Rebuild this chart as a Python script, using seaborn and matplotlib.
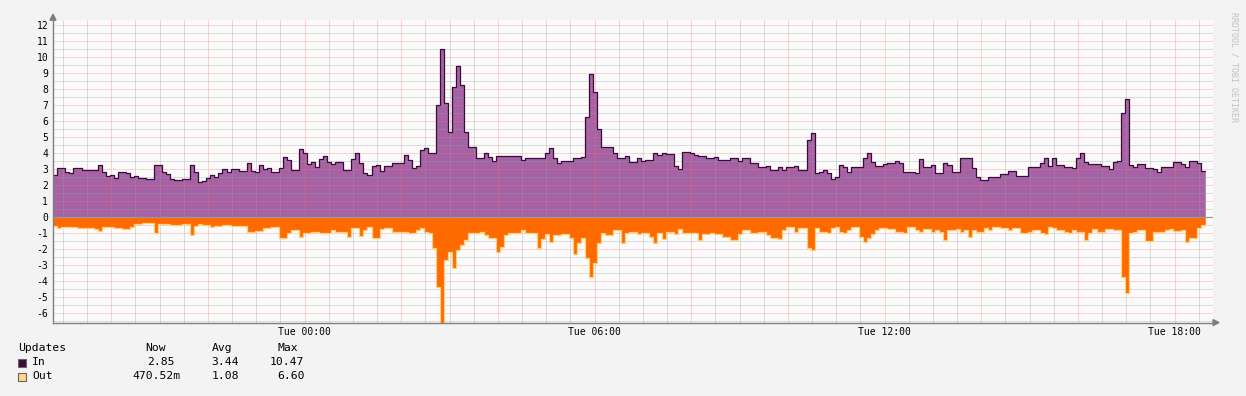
import numpy as np
import pandas as pd
import matplotlib
matplotlib.use("Agg")
import matplotlib.pyplot as plt
import matplotlib.dates as mdates
from matplotlib.patches import Polygon, Rectangle
from matplotlib.transforms import IdentityTransform
import seaborn as sns

# ---------------- data (5-minute steps, Mon 18:48 -> Tue 18:38) ----------------
series_start = "2024-01-01 18:48"   # a Monday
step_minutes = 5

in_values = [
    2.60, 3.08, 3.04, 2.80, 2.73, 3.04, 3.08, 2.94, 2.94, 2.94,
    2.94, 3.23, 2.80, 2.58, 2.62, 2.42, 2.83, 2.83, 2.77, 2.52,
    2.56, 2.44, 2.42, 2.40, 2.35, 3.23, 3.23, 2.83, 2.69, 2.38,
    2.31, 2.31, 2.38, 2.38, 3.23, 2.80, 2.19, 2.25, 2.42, 2.62,
    2.48, 2.73, 2.98, 2.81, 2.98, 2.98, 2.88, 2.88, 3.35, 2.90,
    2.80, 3.27, 2.98, 3.04, 2.80, 2.80, 3.04, 3.73, 3.56, 2.94,
    2.94, 4.23, 4.02, 3.31, 3.46, 3.10, 3.60, 3.81, 3.42, 3.29,
    3.42, 3.42, 2.94, 2.94, 3.60, 3.98, 3.35, 2.73, 2.62, 3.21,
    3.25, 2.88, 3.19, 3.19, 3.35, 3.35, 3.35, 3.88, 3.56, 3.08,
    3.19, 4.19, 4.29, 3.98, 3.98, 7.00, 10.47, 7.10, 5.33, 8.15,
    9.44, 8.25, 5.33, 4.35, 4.35, 3.67, 3.67, 3.98, 3.77, 3.50,
    3.81, 3.81, 3.81, 3.81, 3.81, 3.81, 3.56, 3.67, 3.70, 3.70,
    3.70, 3.67, 3.98, 4.29, 3.67, 3.35, 3.52, 3.52, 3.52, 3.71,
    3.71, 3.77, 6.27, 8.92, 7.83, 5.48, 4.40, 4.40, 4.40, 3.98,
    3.67, 3.67, 3.81, 3.46, 3.46, 3.70, 3.52, 3.56, 3.56, 4.02,
    3.88, 3.98, 3.92, 3.92, 3.19, 2.98, 4.08, 4.08, 4.02, 3.88,
    3.81, 3.81, 3.67, 3.67, 3.73, 3.56, 3.56, 3.56, 3.67, 3.67,
    3.50, 3.67, 3.67, 3.35, 3.35, 3.15, 3.15, 3.19, 2.94, 2.94,
    3.10, 2.94, 3.15, 3.15, 3.19, 2.94, 2.94, 4.81, 5.27, 2.77,
    2.83, 2.94, 2.77, 2.38, 2.52, 3.25, 3.10, 2.83, 3.10, 3.10,
    3.10, 3.67, 3.98, 3.46, 3.19, 3.19, 3.31, 3.40, 3.40, 3.52,
    3.35, 2.83, 2.83, 2.83, 2.73, 3.60, 3.10, 3.10, 3.25, 2.77,
    2.77, 3.40, 3.25, 2.83, 2.83, 3.67, 3.67, 3.67, 3.04, 2.52,
    2.31, 2.31, 2.52, 2.52, 2.52, 2.67, 2.67, 2.90, 2.90, 2.58,
    2.58, 2.58, 3.15, 3.15, 3.15, 3.35, 3.71, 3.19, 3.71, 3.25,
    3.25, 3.15, 3.15, 3.04, 3.67, 3.98, 3.46, 3.29, 3.29, 3.29,
    3.19, 3.19, 2.98, 3.46, 3.52, 6.48, 7.35, 3.25, 3.15, 3.29,
    3.29, 3.04, 3.04, 2.98, 2.83, 3.15, 3.15, 3.15, 3.46, 3.46,
    3.31, 3.15, 3.50, 3.50, 3.35, 2.85,
]

out_values = [
    0.56, 0.71, 0.65, 0.65, 0.60, 0.60, 0.71, 0.71, 0.67, 0.67,
    0.77, 0.85, 0.65, 0.60, 0.60, 0.67, 0.67, 0.77, 0.77, 0.65,
    0.44, 0.44, 0.35, 0.35, 0.35, 0.98, 0.44, 0.44, 0.44, 0.48,
    0.48, 0.48, 0.44, 0.44, 1.13, 0.56, 0.44, 0.50, 0.50, 0.60,
    0.56, 0.56, 0.52, 0.52, 0.56, 0.56, 0.56, 0.56, 0.92, 0.92,
    0.88, 0.88, 0.71, 0.71, 0.60, 0.60, 1.33, 1.33, 1.02, 0.81,
    0.81, 1.27, 1.02, 1.02, 0.92, 0.92, 0.98, 0.98, 0.98, 0.81,
    0.92, 0.92, 0.92, 1.27, 0.71, 0.71, 1.19, 0.81, 0.60, 1.33,
    1.33, 0.77, 0.71, 0.71, 0.92, 0.92, 0.92, 0.92, 1.02, 1.02,
    0.81, 0.71, 0.92, 1.02, 1.96, 4.35, 6.60, 2.69, 2.17, 3.20,
    2.06, 1.75, 1.44, 1.02, 1.02, 1.02, 0.92, 1.13, 1.33, 1.33,
    2.17, 1.85, 1.13, 1.02, 1.02, 1.02, 0.81, 1.02, 1.02, 1.02,
    1.96, 1.40, 1.06, 1.54, 1.13, 1.13, 1.06, 1.06, 1.33, 2.31,
    1.65, 1.33, 2.58, 3.73, 2.90, 1.65, 1.02, 1.13, 1.13, 0.81,
    0.81, 1.65, 0.98, 0.92, 0.92, 1.06, 1.02, 1.02, 1.23, 1.65,
    1.02, 1.40, 0.92, 0.92, 1.06, 0.77, 1.02, 1.02, 1.02, 1.02,
    1.44, 1.06, 1.06, 1.02, 1.06, 1.06, 1.23, 1.23, 1.44, 1.44,
    1.06, 0.81, 0.81, 1.02, 1.02, 0.92, 0.92, 1.13, 1.33, 1.33,
    1.40, 0.81, 0.60, 0.60, 0.92, 0.71, 0.71, 1.96, 2.06, 0.71,
    0.92, 0.92, 1.02, 0.71, 0.60, 0.92, 1.02, 0.81, 0.65, 0.65,
    1.23, 1.54, 1.33, 1.06, 0.81, 0.71, 0.71, 0.77, 0.77, 0.92,
    0.92, 1.02, 0.65, 0.65, 0.81, 0.92, 0.77, 0.77, 0.92, 0.81,
    0.92, 1.44, 0.81, 0.81, 0.77, 0.92, 0.81, 1.23, 0.81, 0.92,
    0.92, 0.71, 0.81, 0.60, 0.60, 0.71, 0.71, 0.81, 0.71, 0.71,
    1.02, 1.02, 0.92, 0.81, 0.81, 0.98, 1.06, 0.60, 0.71, 0.81,
    0.81, 0.92, 1.02, 0.81, 0.92, 0.92, 1.44, 0.98, 0.77, 0.92,
    0.92, 0.77, 0.77, 0.81, 0.81, 3.73, 4.77, 1.02, 0.92, 0.81,
    0.81, 1.48, 1.48, 0.92, 0.92, 0.92, 0.81, 0.77, 0.85, 0.85,
    0.81, 1.54, 1.33, 1.33, 0.71, 0.47,
]

series_names = ["In", "Out"]
legend_title = "Updates"
stat_headers = ["Now", "Avg", "Max"]
in_stats = ["2.85", "3.44", "10.47"]
out_stats = ["470.52m", "1.08", "6.60"]
y_ticks = list(range(-6, 13))
x_tick_labels = ["Tue 00:00", "Tue 06:00", "Tue 12:00", "Tue 18:00"]
credit = "RRDTOOL / TOBI OETIKER"

# ---------------- style ----------------
BG = "#f3f3f3"
CANVAS = "#fbfbfb"
IN_FILL = "#a562a5"
IN_LINE = "#3b0b3b"
OUT_FILL = "#ff6a00"
OUT_LINE = "#ffcf7a"
IN_SWATCH = "#3b0b3b"
OUT_SWATCH = "#ffd68a"
AXIS = "#7f7f7f"
MINOR = (0.62, 0.62, 0.62, 0.65)
MAJOR = (1.0, 0.45, 0.45, 0.6)

sns.set_theme(style="white")
plt.rcParams["font.family"] = ["DejaVu Sans Mono", "DejaVu Sans"]

W, H = 1246, 396
fig = plt.figure(figsize=(W / 100, H / 100), dpi=100)
fig.patch.set_facecolor(BG)
ax = fig.add_axes([53 / W, (H - 322.6) / H, 1160 / W, 302.4 / H])
ax.set_facecolor(CANVAS)

starts = pd.date_range(series_start, periods=len(in_values), freq=f"{step_minutes}min")
edges = starts.append(pd.DatetimeIndex([starts[-1] + pd.Timedelta(minutes=step_minutes)]))
xe = mdates.date2num(edges.to_pydatetime())
vin = np.append(np.array(in_values), in_values[-1])
vout = -np.append(np.array(out_values), out_values[-1])

ax.fill_between(xe, 0, vin, step="post", color=IN_FILL, lw=0, zorder=2)
ax.fill_between(xe, 0, vout, step="post", color=OUT_FILL, lw=0, zorder=3.5)

df = pd.DataFrame({"time": xe, series_names[0]: vin, series_names[1]: vout})
sns.lineplot(data=df, x="time", y=series_names[1], ax=ax, color=OUT_LINE, linewidth=0.9,
             drawstyle="steps-post", zorder=4, legend=False)
sns.lineplot(data=df, x="time", y=series_names[0], ax=ax, color=IN_LINE, linewidth=0.9,
             drawstyle="steps-post", zorder=5, legend=False)

# axes range
x0 = pd.Timestamp("2024-01-01 18:47:36")
x1 = x0 + pd.Timedelta(days=1)
ax.set_xlim(mdates.date2num(x0.to_pydatetime()), mdates.date2num(x1.to_pydatetime()))
ax.set_ylim(-6.6, 12.3)

# grid (dotted)
dot = (0, (1, 1))
grid_t = pd.date_range("2024-01-01 19:00", "2024-01-02 18:30", freq="30min")
for tt in grid_t:
    col = MAJOR if (tt.minute == 0 and tt.hour % 2 == 0) else MINOR
    ax.axvline(mdates.date2num(tt.to_pydatetime()), color=col, lw=0.72, ls=dot, zorder=3)
for yv in np.arange(-6.5, 12.01, 0.5):
    if abs(yv) < 1e-9:
        continue
    col = MAJOR if float(yv).is_integer() else MINOR
    ax.axhline(yv, color=col, lw=0.72, ls=dot, zorder=3)
ax.axhline(0, color="#9a9a9a", lw=0.9, zorder=6)

# ticks
label_t = pd.date_range("2024-01-02 00:00", periods=len(x_tick_labels), freq="6h")
ax.set_xticks(mdates.date2num(label_t.to_pydatetime()))
ax.set_xticklabels(x_tick_labels)
ax.set_xticks(mdates.date2num(grid_t.to_pydatetime()), minor=True)
ax.set_yticks(y_ticks)
ax.set_yticklabels([str(v) for v in y_ticks])
ax.tick_params(axis="both", which="both", colors=AXIS, labelcolor="#000000",
               direction="inout", length=3, width=0.8, labelsize=7)
ax.tick_params(axis="y", pad=2)
ax.tick_params(axis="x", pad=2)
ax.set_xlabel("")
ax.set_ylabel("")
for s in ["top", "right"]:
    ax.spines[s].set_visible(False)
for s in ["left", "bottom"]:
    ax.spines[s].set_color(AXIS)
    ax.spines[s].set_linewidth(1.0)
    ax.spines[s].set_zorder(7)

# axis arrows (pixel coordinates, origin bottom-left)
idt = IdentityTransform()
ax_top = H - 20.2
ax_bot = H - 322.6
fig.add_artist(Polygon([(50, ax_top), (56, ax_top), (53, ax_top + 6)], closed=True,
                       transform=idt, color=AXIS))
fig.add_artist(Polygon([(1213, ax_bot - 3), (1213, ax_bot + 3), (1219, ax_bot)], closed=True,
                       transform=idt, color=AXIS))

# credit
fig.text(1234 / W, 1 - 67 / H, credit, rotation=270, color="#c2c2c2", fontsize=6,
         ha="center", va="center")

# legend block
def ftxt(x, y, s):
    fig.text(x / W, 1 - y / H, s, ha="left", va="center", fontsize=8.2, color="#000000")

ftxt(18.3, 347.7, legend_title)
for hx, h in zip([145, 211.3, 277.3], stat_headers):
    ftxt(hx, 347.7, h)
ftxt(32.3, 362, series_names[0])
ftxt(32.3, 376, series_names[1])
for sx, s in zip([146.7, 211.3, 269.3], in_stats):
    ftxt(sx, 362, s)
for sx, s in zip([132.7, 211.3, 277.3], out_stats):
    ftxt(sx, 376, s)
fig.add_artist(Rectangle((17.5, H - 366.5), 8, 8, transform=idt, facecolor=IN_SWATCH,
                         edgecolor="#666666", lw=0.8))
fig.add_artist(Rectangle((17.5, H - 380.5), 8, 8, transform=idt, facecolor=OUT_SWATCH,
                         edgecolor="#666666", lw=0.8))

fig.savefig("out.png", dpi=100, facecolor=fig.get_facecolor())
